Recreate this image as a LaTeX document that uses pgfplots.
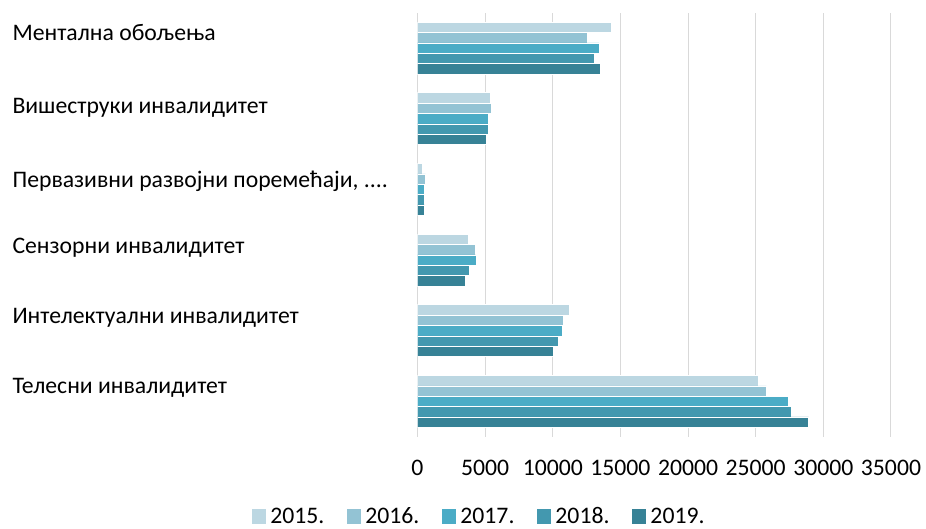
\documentclass[border=0pt]{standalone}
\usepackage{pgfplots}
\pgfplotsset{compat=1.18}
\usepackage{pgfplotstable}
\usepackage{fontspec}
\setmainfont{Carlito}
\definecolor{cA}{HTML}{BCD7E2}
\definecolor{cB}{HTML}{93C3D4}
\definecolor{cC}{HTML}{4BACC6}
\definecolor{cD}{HTML}{4398AF}
\definecolor{cE}{HTML}{378296}
\definecolor{gridc}{HTML}{D9D9D9}
\pgfplotstableread{
c v
0 25215
1 11190
2 3780
3 360
4 5380
5 14310
}\dA
\pgfplotstableread{
c v
0 25780
1 10790
2 4245
3 600
4 5480
5 12565
}\dB
\pgfplotstableread{
c v
0 27430
1 10690
2 4320
3 480
4 5255
5 13400
}\dC
\pgfplotstableread{
c v
0 27650
1 10420
2 3800
3 500
4 5205
5 13080
}\dD
\pgfplotstableread{
c v
0 28910
1 10055
2 3530
3 520
4 5058
5 13475
}\dE
\begin{document}
\begin{tikzpicture}
\begin{axis}[
  name=ax,
  scale only axis,
  width=473.5pt, height=424pt,
  xbar, bar width=0.147,
  xmin=0, xmax=35000,
  ymin=-0.5, ymax=5.5,
  xtick={0,5000,...,35000},
  scaled x ticks=false,
  /pgf/number format/set thousands separator={},
  /pgf/number format/assume math mode=true,
  ytick={0,1,2,3,4,5},
  yticklabels={
    \raisebox{8pt}{Телесни инвалидитет},
    \raisebox{6.7pt}{Интелектуални инвалидитет},
    \raisebox{6.7pt}{Сензорни инвалидитет},
    \raisebox{2pt}{Первазивни развојни поремећаји, ....},
    \raisebox{4.7pt}{Вишеструки инвалидитет},
    \raisebox{7.4pt}{Ментална обољења}},
  xmajorgrids=true,
  grid style={draw=gridc, line width=1pt},
  axis line style={draw=none},
  tick style={draw=none},
  xticklabel style={anchor=center, yshift=-31pt, font=\fontsize{23.7}{28}\selectfont},
  yticklabel style={anchor=base west, inner sep=0pt, xshift=-400.9pt, font=\fontsize{23.7}{28}\selectfont},
  legend columns=-1,
  legend style={draw=none, fill=none, at={(rel axis cs:0.128,-0.188)}, anchor=center,
    font=\fontsize{23.7}{28}\selectfont,
    nodes={inner sep=0pt},
    cells={anchor=base west},
    /tikz/every odd column/.append style={column sep=4.3pt},
    /tikz/every even column/.append style={column sep=22.3pt}},
  legend image code/.code={\fill[#1,draw=none] (0pt,0.2pt) rectangle (14.4pt,14.5pt);},
]
\addplot[fill=cA, draw=white, line width=0.5pt, bar shift=0.294] table[x=v,y=c]{\dA};
\addplot[fill=cB, draw=white, line width=0.5pt, bar shift=0.147] table[x=v,y=c]{\dB};
\addplot[fill=cC, draw=white, line width=0.5pt, bar shift=0] table[x=v,y=c]{\dC};
\addplot[fill=cD, draw=white, line width=0.5pt, bar shift=-0.147] table[x=v,y=c]{\dD};
\addplot[fill=cE, draw=white, line width=0.5pt, bar shift=-0.294] table[x=v,y=c]{\dE};
\legend{2015.,2016.,2017.,2018.,2019.}
\end{axis}
\path (ax.south west) ++(-417.5pt,-92.3pt) rectangle ++(926pt,529pt);
\end{tikzpicture}
\end{document}
